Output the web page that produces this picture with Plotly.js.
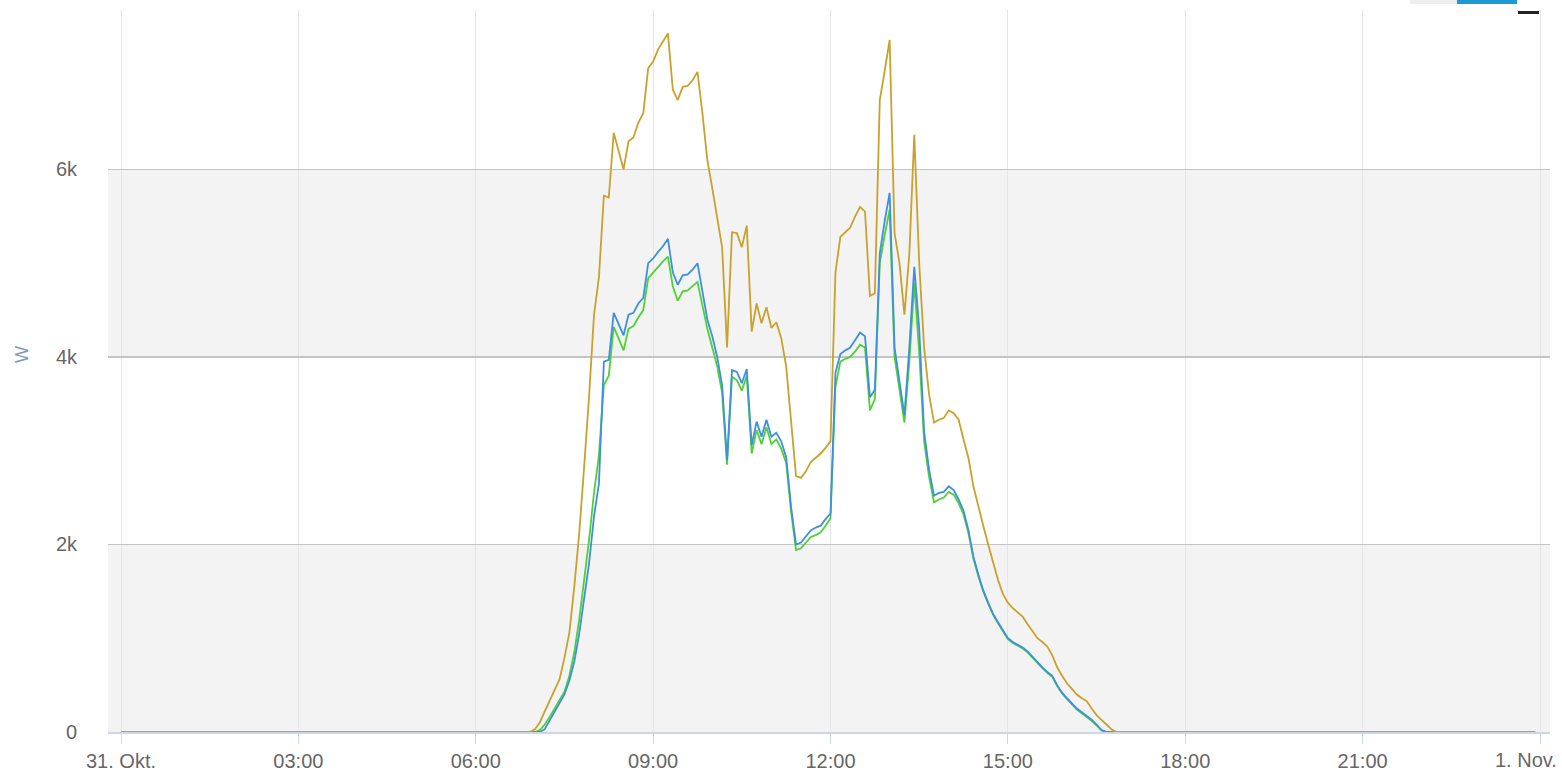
<!DOCTYPE html>
<html>
<head>
<meta charset="utf-8">
<script src="https://cdn.plot.ly/plotly-3.0.1.min.js"></script>
<style>html,body{margin:0;padding:0;background:#fff;}#chart{width:1562px;height:778px;}</style>
</head>
<body>
<div id="chart"></div>
<script>
// Day of the chart (31. Okt.)
const day = "2023-10-31";
const nextDay = "2023-11-01";

// Sample times (HH:MM)
const times = ["00:00",
"06:55","07:00","07:05","07:10","07:15","07:20","07:25","07:30","07:35","07:40","07:45","07:50","07:55",
"08:00","08:05","08:10","08:15","08:20","08:25","08:30","08:35","08:40","08:45","08:50","08:55",
"09:00","09:05","09:10","09:15","09:20","09:25","09:30","09:35","09:40","09:45","09:50","09:55",
"10:00","10:05","10:10","10:15","10:20","10:25","10:30","10:35","10:40","10:45","10:50","10:55",
"11:00","11:05","11:10","11:15","11:20","11:25","11:30","11:35","11:40","11:45","11:50","11:55",
"12:00","12:05","12:10","12:15","12:20","12:25","12:30","12:35","12:40","12:45","12:50","12:55",
"13:00","13:05","13:10","13:15","13:20","13:25","13:30","13:35","13:40","13:45","13:50","13:55",
"14:00","14:05","14:10","14:15","14:20","14:25","14:30","14:35","14:40","14:45","14:50","14:55",
"15:00","15:05","15:10","15:15","15:20","15:25","15:30","15:35","15:40","15:45","15:50","15:55",
"16:00","16:05","16:10","16:15","16:20","16:25","16:30","16:35","16:40","16:45","16:50","16:55",
"23:55"];

// Gold series (W)
const seriesGold = [0,
0,30,100,220,330,440,560,790,1060,1550,2120,2830,3580,
4450,4850,5720,5700,6390,6200,6000,6300,6340,6500,6600,7080,
7150,7280,7360,7450,6850,6740,6880,6890,6950,7040,6600,6100,
5800,5500,5170,4100,5330,5320,5170,5400,4270,4570,4360,4530,
4310,4370,4200,3900,3300,2730,2710,2780,2880,2920,2970,3030,
3100,4900,5280,5330,5380,5500,5600,5550,4650,4680,6740,7050,
7380,5320,5000,4450,5100,6370,5000,4100,3600,3300,3330,3350,
3430,3400,3330,3120,2920,2620,2400,2200,2000,1800,1620,1470,
1380,1320,1280,1230,1150,1070,1000,960,910,820,690,600,
520,460,400,360,330,250,180,130,80,30,0,0,
0];

// Blue series (W)
const seriesBlue = [0,
0,0,0,30,120,220,300,400,550,750,1050,1400,1800,
2300,2650,3950,3970,4470,4350,4230,4450,4470,4570,4630,5000,
5050,5120,5180,5260,4900,4770,4870,4880,4930,5000,4700,4400,
4220,4000,3700,2900,3860,3840,3720,3870,3060,3310,3150,3330,
3150,3190,3100,2930,2400,2000,2020,2080,2150,2180,2200,2270,
2330,3830,4030,4070,4100,4180,4260,4220,3570,3650,5100,5450,
5750,4100,3750,3380,4100,4960,4300,3200,2800,2520,2550,2560,
2620,2580,2480,2360,2150,1870,1680,1510,1380,1260,1170,1080,
1000,960,930,900,860,800,740,690,640,600,500,420,
360,300,250,210,170,130,80,20,0,0,0,0,
0];

// Green series (W)
const seriesGreen = [0,
0,0,20,80,160,250,330,430,600,850,1200,1600,2050,
2550,2950,3700,3800,4320,4200,4070,4300,4330,4420,4500,4840,
4900,4970,5020,5070,4750,4600,4700,4710,4760,4800,4550,4300,
4100,3900,3620,2850,3790,3750,3640,3800,2970,3220,3070,3250,
3070,3120,3020,2870,2350,1940,1960,2020,2080,2100,2130,2200,
2280,3680,3950,3980,4000,4060,4130,4100,3430,3550,5000,5300,
5570,4000,3650,3300,3950,4790,4050,3100,2720,2450,2480,2500,
2560,2530,2440,2320,2120,1850,1660,1500,1370,1250,1160,1070,
990,950,920,890,850,790,730,680,630,590,490,410,
350,290,240,200,160,120,70,20,0,0,0,0,
0];

// Axis ticks
const xTickVals = [day+" 00:00", day+" 03:00", day+" 06:00", day+" 09:00", day+" 12:00", day+" 15:00", day+" 18:00", day+" 21:00", nextDay+" 00:00"];
const xTickText = ["31. Okt.", "03:00", "06:00", "09:00", "12:00", "15:00", "18:00", "21:00", "1. Nov."];
const yTickVals = [0, 2000, 4000, 6000];
const yTickText = ["0", "2k", "4k", "6k"];
const yTitle = "W";

const xs = times.map(t => day + " " + t);

const font = "'Liberation Sans', Arial, sans-serif";

const traces = [
  {x: xs, y: seriesGreen, type: "scatter", mode: "lines", line: {color: "#4fd136", width: 1.8}, hoverinfo: "skip", cliponaxis: false},
  {x: xs, y: seriesBlue, type: "scatter", mode: "lines", line: {color: "#3d8fe0", width: 1.8}, hoverinfo: "skip", cliponaxis: false},
  {x: xs, y: seriesGold, type: "scatter", mode: "lines", line: {color: "#c9a12c", width: 1.8}, hoverinfo: "skip", cliponaxis: false}
];

// The last tick label is drawn shifted left (as in the original) via an annotation
const shownTickText = xTickText.slice(0, -1).concat([""]);

const layout = {
  width: 1562, height: 778,
  margin: {l: 108, r: 12, t: 10, b: 46},
  paper_bgcolor: "#ffffff",
  plot_bgcolor: "#ffffff",
  showlegend: false,
  font: {family: font, color: "#666666"},
  xaxis: {
    type: "date",
    range: ["2023-10-30 23:46:48", "2023-11-01 00:10:08"],
    tickmode: "array", tickvals: xTickVals, ticktext: shownTickText,
    showgrid: true, gridcolor: "#e6e6e6", gridwidth: 1,
    showline: true, linecolor: "#ccd6eb", linewidth: 2,
    ticks: "outside", ticklen: 10, tickcolor: "#ccd6eb", tickwidth: 1,
    tickfont: {size: 20, color: "#666666", family: font},
    zeroline: false, fixedrange: true, layer: "below traces"
  },
  yaxis: {
    range: [0, 7700],
    tickmode: "array", tickvals: yTickVals, ticktext: yTickText,
    showgrid: true, gridcolor: "#c4c4c4", gridwidth: 1.5,
    zeroline: false, showline: false,
    ticks: "outside", ticklen: 26, tickcolor: "rgba(0,0,0,0)",
    tickfont: {size: 20, color: "#666666", family: font},
    fixedrange: true, layer: "below traces"
  },
  shapes: [
    {type: "rect", xref: "paper", yref: "y", x0: 0, x1: 1, y0: 0, y1: 2000, fillcolor: "#f3f3f3", line: {width: 0}, layer: "below"},
    {type: "rect", xref: "paper", yref: "y", x0: 0, x1: 1, y0: 4000, y1: 6000, fillcolor: "#f3f3f3", line: {width: 0}, layer: "below"},
    // fragments of controls at top right
    {type: "rect", xref: "paper", yref: "paper", x0: (1410-108)/1442, x1: (1457-108)/1442, y0: (732-0)/722, y1: (732-4)/722, fillcolor: "#eeeeee", line: {width: 0}},
    {type: "rect", xref: "paper", yref: "paper", x0: (1457-108)/1442, x1: (1517-108)/1442, y0: (732-0)/722, y1: (732-4)/722, fillcolor: "#1a9ad6", line: {width: 0}},
    {type: "rect", xref: "paper", yref: "paper", x0: (1518-108)/1442, x1: (1539-108)/1442, y0: (732-11)/722, y1: (732-14)/722, fillcolor: "#222222", line: {width: 0}}
  ],
  annotations: [
    {text: yTitle, xref: "paper", yref: "paper", x: (22-108)/1442, y: (732-355)/722, xanchor: "center", yanchor: "middle",
     textangle: -90, showarrow: false, font: {size: 18, color: "#7d98b8", family: font}},
    {text: xTickText[xTickText.length - 1], xref: "paper", yref: "paper", x: (1559-108)/1442, y: (732-760)/722,
     xanchor: "right", yanchor: "middle", showarrow: false, font: {size: 20, color: "#666666", family: font}}
  ]
};

Plotly.newPlot("chart", traces, layout, {displayModeBar: false, staticPlot: true});
</script>
</body>
</html>
